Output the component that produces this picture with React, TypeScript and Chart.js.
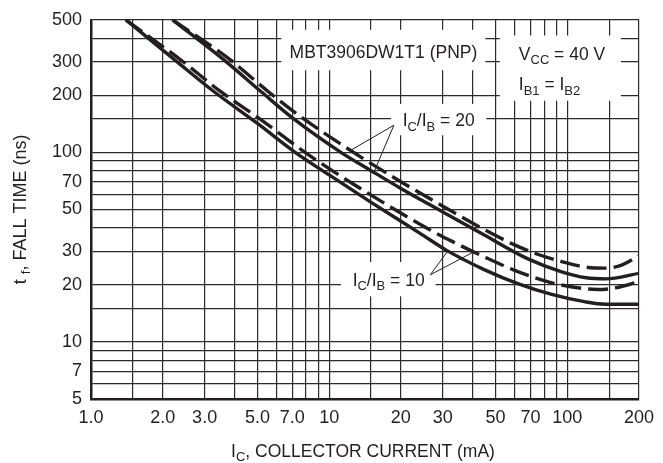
import React, { useEffect, useRef } from 'react';
import { Chart, registerables } from 'chart.js';

Chart.register(...registerables);

// Collector current axis (mA): every grid line, and the values that carry a label
const currentGrid = [1, 1.5, 2, 3, 4, 5, 6, 7, 8, 9, 10, 15, 20, 30, 40, 50, 60, 70, 80, 90, 100, 150, 200];
const currentLabelValues = [1, 2, 3, 5, 7, 10, 20, 30, 50, 70, 100, 200];
const currentLabelText = ['1.0', '2.0', '3.0', '5.0', '7.0', '10', '20', '30', '50', '70', '100', '200'];

// Fall time axis (ns)
const fallGrid = [5, 6, 7, 8, 9, 10, 15, 20, 30, 40, 50, 60, 70, 80, 90, 100, 150, 200, 300, 400, 500];
const fallLabelValues = [5, 7, 10, 20, 30, 50, 70, 100, 200, 300, 500];
const fallLabelText = ['5', '7', '10', '20', '30', '50', '70', '100', '200', '300', '500'];

// IC/IB = 20, solid curve
const ratio20SolidIc = [2.2, 3.7, 5.2, 7.1, 11.2, 15, 20, 30, 45, 68, 94, 120, 145, 200];
const ratio20SolidTf = [500, 300, 208, 150, 100, 80, 64.5, 48.5, 36.5, 27.5, 23.5, 21.8, 21.5, 23];

// IC/IB = 20, dashed curve
const ratio20DashIc = [2.2, 3.85, 5.45, 7.6, 12.5, 20, 30, 45, 60, 75, 95, 120, 145, 170, 200];
const ratio20DashTf = [500, 307, 213, 154, 101, 70, 52, 39, 32.5, 29, 26.5, 24.8, 24.5, 25.5, 28.5];

// IC/IB = 10, solid curve
const ratio10SolidIc = [1.4, 2.3, 3.3, 5, 7.2, 10, 15, 24, 31, 45, 62, 86, 118, 145, 200];
const ratio10SolidTf = [500, 300, 208, 142, 100, 76, 54.5, 37.5, 30.5, 24, 20.3, 17.8, 16.3, 15.8, 15.8];

// IC/IB = 10, dashed curve
const ratio10DashIc = [1.4, 2.4, 3.45, 5.2, 7.5, 10, 15, 26, 33, 45, 62, 86, 118, 135, 160, 200];
const ratio10DashTf = [500, 305, 212, 148, 105, 82, 59.5, 39.5, 33.8, 28, 23.5, 20.5, 19.1, 18.9, 19.3, 20.8];

const FONT = '"Liberation Sans", Arial, Helvetica, sans-serif';
const INK = '#231f20';
const GRID = '#2b2b2b';

type Part = [string, boolean?];

// white panels behind the notes (collector current range, fall time range)
const panels = [
  { ic: [6.3, 45.3], tf: [443, 271] },
  { ic: [52.1, 168], tf: [413, 187] },
  { ic: [18.2, 45.7], tf: [180, 123] },
  { ic: [11.2, 28], tf: [26.4, 17.4] },
];

const notes: { parts: Part[]; ic: number; tf: number; align: 'left' | 'center' }[] = [
  { parts: [['MBT3906DW1T1 (PNP)']], ic: 16.9, tf: 315, align: 'center' },
  { parts: [['V'], ['CC', true], [' = 40 V']], ic: 62.6, tf: 306, align: 'left' },
  { parts: [['I'], ['B1', true], [' = I'], ['B2', true]], ic: 62.6, tf: 212, align: 'left' },
  { parts: [['I'], ['C', true], ['/I'], ['B', true], [' = 20']], ic: 20.35, tf: 137, align: 'left' },
  { parts: [['I'], ['C', true], ['/I'], ['B', true], [' = 10']], ic: 12.55, tf: 19.8, align: 'left' },
];

function interpLogLog(xs: number[], ys: number[], v: number) {
  for (let i = 0; i < xs.length - 1; i++) {
    if (v >= xs[i] && v <= xs[i + 1]) {
      const f = Math.log(v / xs[i]) / Math.log(xs[i + 1] / xs[i]);
      return Math.exp(Math.log(ys[i]) + f * Math.log(ys[i + 1] / ys[i]));
    }
  }
  return ys[ys.length - 1];
}

// leader lines from each IC/IB note to the curves it names
const leaders = [
  { from: [18.7, 139], to: [12.3, interpLogLog(ratio20DashIc, ratio20DashTf, 12.3)] },
  { from: [18.7, 139], to: [15.4, interpLogLog(ratio20SolidIc, ratio20SolidTf, 15.4)] },
  { from: [26.6, 22.6], to: [31.5, interpLogLog(ratio10SolidIc, ratio10SolidTf, 31.5)] },
  { from: [26.6, 22.6], to: [40.5, interpLogLog(ratio10DashIc, ratio10DashTf, 40.5)] },
];

function measureParts(ctx: CanvasRenderingContext2D, parts: Part[], size: number) {
  let w = 0;
  for (const [t, sub] of parts) {
    ctx.font = `${sub ? size * 0.74 : size}px ${FONT}`;
    w += ctx.measureText(t).width;
  }
  return w;
}

function drawParts(ctx: CanvasRenderingContext2D, parts: Part[], x: number, y: number, size: number, align: 'left' | 'center') {
  let cx = align === 'center' ? x - measureParts(ctx, parts, size) / 2 : x;
  ctx.textAlign = 'left';
  ctx.textBaseline = 'alphabetic';
  ctx.fillStyle = INK;
  for (const [t, sub] of parts) {
    const s = sub ? size * 0.74 : size;
    ctx.font = `${s}px ${FONT}`;
    ctx.fillText(t, cx, sub ? y + size * 0.24 : y);
    cx += ctx.measureText(t).width;
  }
}

function labelFor(values: number[], texts: string[], v: number) {
  const i = values.findIndex((lv) => Math.abs(lv - v) < 1e-9);
  return i >= 0 ? texts[i] : '';
}

const notesPlugin = {
  id: 'notes',
  beforeDatasetsDraw(chart: any) {
    const { ctx, scales } = chart;
    const x = scales.x;
    const y = scales.y;
    ctx.save();
    ctx.fillStyle = '#ffffff';
    for (const p of panels) {
      const x1 = x.getPixelForValue(p.ic[0]);
      const x2 = x.getPixelForValue(p.ic[1]);
      const y1 = y.getPixelForValue(p.tf[0]);
      const y2 = y.getPixelForValue(p.tf[1]);
      ctx.fillRect(x1, y1, x2 - x1, y2 - y1);
    }
    ctx.restore();
  },
  afterDatasetsDraw(chart: any) {
    const { ctx, scales } = chart;
    const x = scales.x;
    const y = scales.y;
    ctx.save();
    ctx.strokeStyle = INK;
    ctx.lineWidth = 1;
    for (const l of leaders) {
      ctx.beginPath();
      ctx.moveTo(x.getPixelForValue(l.from[0]), y.getPixelForValue(l.from[1]));
      ctx.lineTo(x.getPixelForValue(l.to[0]), y.getPixelForValue(l.to[1]));
      ctx.stroke();
    }
    for (const n of notes) {
      drawParts(ctx, n.parts, x.getPixelForValue(n.ic), y.getPixelForValue(n.tf), 17.5, n.align);
    }
    ctx.restore();
  },
  afterDraw(chart: any) {
    const { ctx, chartArea } = chart;
    ctx.save();
    // x axis title
    drawParts(ctx, [['I'], ['C', true], [', COLLECTOR CURRENT (mA)']], (chartArea.left + chartArea.right) / 2 - 2, 456.5, 17.5, 'center');
    // y axis title, reading upwards
    ctx.translate(26, (chartArea.top + chartArea.bottom) / 2);
    ctx.rotate(-Math.PI / 2);
    drawParts(ctx, [['t '], ['f', true], [', FALL TIME (ns)']], 0, 0, 18, 'center');
    ctx.restore();
  },
};

function series(label: string, xs: number[], ys: number[], dash: number[]) {
  return {
    label,
    data: xs.map((v, i) => ({ x: v, y: ys[i] })),
    borderColor: INK,
    borderWidth: 3.4,
    borderDash: dash,
    borderCapStyle: 'butt' as const,
    pointRadius: 0,
    fill: false,
    cubicInterpolationMode: 'monotone' as const,
  };
}

export default function App() {
  const canvasRef = useRef<HTMLCanvasElement | null>(null);

  useEffect(() => {
    const canvas = canvasRef.current;
    if (!canvas) return;
    const chart = new Chart(canvas, {
      type: 'line',
      data: {
        datasets: [
          series('IC/IB = 20 (solid)', ratio20SolidIc, ratio20SolidTf, []),
          series('IC/IB = 20 (dashed)', ratio20DashIc, ratio20DashTf, [20, 7]),
          series('IC/IB = 10 (solid)', ratio10SolidIc, ratio10SolidTf, []),
          series('IC/IB = 10 (dashed)', ratio10DashIc, ratio10DashTf, [20, 7]),
        ],
      },
      options: {
        animation: false,
        responsive: false,
        devicePixelRatio: 1,
        layout: { padding: { top: 15, right: 24, left: 0, bottom: 0 } },
        plugins: { legend: { display: false }, tooltip: { enabled: false } },
        scales: {
          x: {
            type: 'logarithmic',
            min: 1,
            max: 200,
            afterBuildTicks: (s: any) => {
              s.ticks = currentGrid.map((v) => ({ value: v }));
            },
            afterFit: (s: any) => {
              s.height = 64;
            },
            ticks: {
              autoSkip: false,
              maxRotation: 0,
              padding: 8,
              color: INK,
              font: { family: FONT, size: 18 },
              callback: (v: any) => labelFor(currentLabelValues, currentLabelText, Number(v)),
            },
            grid: { color: GRID, lineWidth: 1.2, drawTicks: false },
            border: { color: INK, width: 2.5 },
          },
          y: {
            type: 'logarithmic',
            min: 5,
            max: 500,
            afterBuildTicks: (s: any) => {
              s.ticks = fallGrid.map((v) => ({ value: v }));
            },
            afterFit: (s: any) => {
              s.width = 91;
            },
            ticks: {
              autoSkip: false,
              padding: 9,
              color: INK,
              font: { family: FONT, size: 18 },
              callback: (v: any) => labelFor(fallLabelValues, fallLabelText, Number(v)),
            },
            grid: { color: GRID, lineWidth: 1.2, drawTicks: false },
            border: { color: INK, width: 2.5 },
          },
        },
      },
      plugins: [notesPlugin],
    });
    return () => chart.destroy();
  }, []);

  return (
    <div style={{ position: 'absolute', left: 0, top: 0, width: 663, height: 463, background: '#fff' }}>
      <canvas ref={canvasRef} width={663} height={463} style={{ display: 'block' }} />
    </div>
  );
}
